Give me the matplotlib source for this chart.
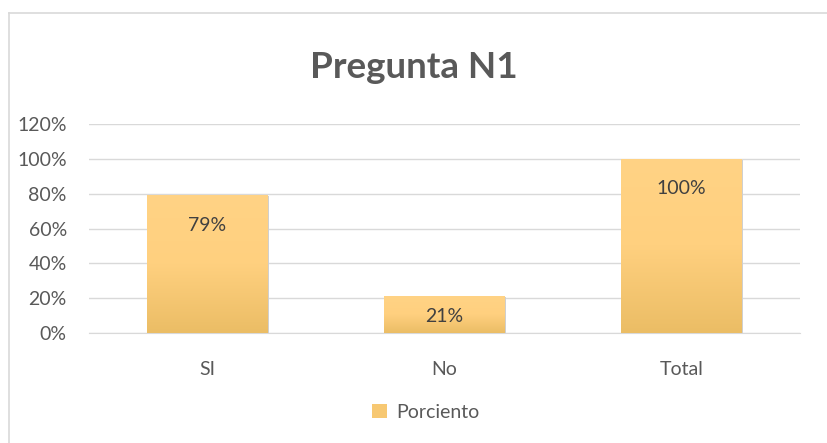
import matplotlib
matplotlib.use("Agg")
import matplotlib.pyplot as plt
import numpy as np
from matplotlib.colors import LinearSegmentedColormap
from matplotlib.lines import Line2D
from matplotlib.patches import Patch

categories = ["SI", "No", "Total"]
values = [0.79, 0.21, 1.00]
labels = ["79%", "21%", "100%"]
yticks = [0, 0.2, 0.4, 0.6, 0.8, 1.0, 1.2]
ytick_labels = ["0%", "20%", "40%", "60%", "80%", "100%", "120%"]
title = "Pregunta N1"
legend_label = "Porciento"

plt.rcParams['font.family'] = ['Lato', 'DejaVu Sans']
txt = "#595959"
fs = 14

fig = plt.figure(figsize=(8.28, 4.43), dpi=100)
ax = fig.add_axes([89/828, 1-333/443, 711/828, 209/443])

cmap = LinearSegmentedColormap.from_list("g", ["#EBBD65", "#FFD07F", "#FFD385"])
x = np.arange(len(categories))
bars = ax.bar(x, values, width=0.51, color="#FFD07F", zorder=3)
grad = np.linspace(0, 1, 256).reshape(-1, 1)
for b in bars:
    bx, by = b.get_x(), b.get_y()
    w, h = b.get_width(), b.get_height()
    ax.add_patch(plt.Rectangle((bx + 0.006, by), w, h - 0.004, color="#CFCFCF", zorder=2, lw=0))
    im = ax.imshow(grad, cmap=cmap, extent=(bx, bx + w, by, by + h), aspect="auto",
                   origin="lower", zorder=3.5)
    im.set_clip_path(b)
    b.set_alpha(0)

for xi, v, lab in zip(x, values, labels):
    if v > 0.4:
        ax.annotate(lab, (xi, v), xytext=(0, -21.5), textcoords="offset points",
                    ha="center", va="center", fontsize=fs, color="#404040", zorder=5)
    else:
        ax.text(xi, v / 2 - 0.01, lab, ha="center", va="center", fontsize=fs,
                color="#404040", zorder=5)

ax.set_xlim(-0.5, len(categories) - 0.5)
ax.set_ylim(0, 1.2)
ax.set_yticks(yticks)
ax.set_yticklabels(ytick_labels)
ax.set_xticks(x)
ax.set_xticklabels(categories)
ax.tick_params(axis="both", length=0, labelsize=fs, colors=txt)
ax.tick_params(axis="y", pad=16)
ax.tick_params(axis="x", pad=20)
ax.grid(axis="y", color="#D9D9D9", lw=1, zorder=0)
for s in ["top", "right", "left"]:
    ax.spines[s].set_visible(False)
ax.spines["bottom"].set_color("#D9D9D9")
ax.set_axisbelow(True)

fig.text(414/828, 1-67/443, title, ha="center", va="center", fontsize=26.5,
         fontweight="bold", color=txt)

fig.add_artist(Line2D([9/828, 1], [1-13/443, 1-13/443], color="#D9D9D9", lw=1.2))
fig.add_artist(Line2D([9/828, 9/828], [0, 1-13/443], color="#D9D9D9", lw=1.2))

handle = Patch(facecolor="#F7C872", edgecolor="none")
fig.legend([handle], [legend_label], loc="center", bbox_to_anchor=(426/828, 1-412/443),
           frameon=False, fontsize=fs, labelcolor=txt, handlelength=0.75, handleheight=0.75,
           handletextpad=0.5)

fig.savefig("out.png", dpi=100)
